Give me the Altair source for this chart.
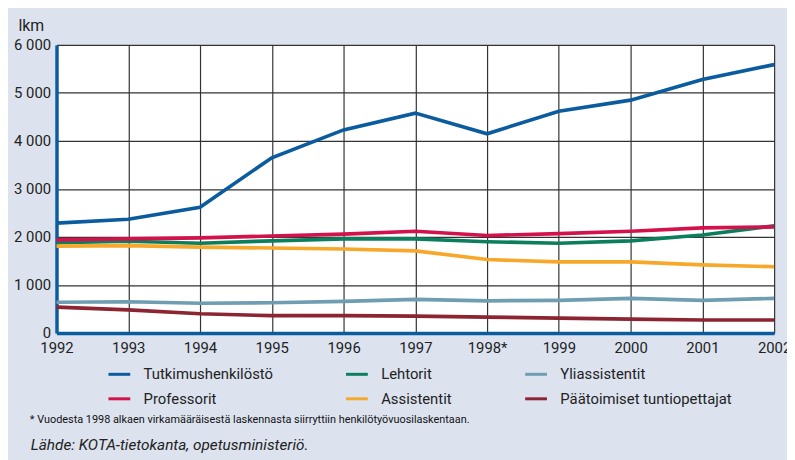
import altair as alt
import pandas as pd

years = [1992, 1993, 1994, 1995, 1996, 1997, 1998, 1999, 2000, 2001, 2002]
series_names = ["Tutkimushenkilöstö", "Lehtorit", "Yliassistentit",
                "Professorit", "Assistentit", "Päätoimiset tuntiopettajat"]
tutkimus = [2290, 2370, 2620, 3650, 4230, 4580, 4150, 4620, 4850, 5280, 5590]
lehtorit = [1880, 1910, 1870, 1920, 1960, 1960, 1900, 1870, 1920, 2040, 2230]
yliass = [640, 650, 620, 630, 660, 700, 670, 680, 720, 680, 720]
professorit = [1940, 1960, 1980, 2020, 2060, 2120, 2030, 2070, 2120, 2190, 2210]
assistentit = [1810, 1820, 1790, 1770, 1750, 1710, 1530, 1480, 1480, 1420, 1380]
paatoimiset = [540, 480, 400, 360, 360, 350, 330, 310, 290, 270, 270]
colors = ["#0b5c9e", "#0b7f5c", "#6f9db2", "#d3124b", "#f7a82b", "#8c2531"]

values = [tutkimus, lehtorit, yliass, professorit, assistentit, paatoimiset]
rows = []
for name, vals in zip(series_names, values):
    for y, v in zip(years, vals):
        rows.append({"vuosi": y, "lkm": v, "sarja": name})
df = pd.DataFrame(rows)

footnote = "* Vuodesta 1998 alkaen virkamääräisestä laskennasta siirryttiin henkilötyövuosilaskentaan."
source = "Lähde: KOTA-tietokanta, opetusministeriö."

FONT = "Liberation Sans Narrow, Roboto, sans-serif"

lines = alt.Chart(df).mark_line(strokeWidth=3.7, clip=False).encode(
    x=alt.X("vuosi:Q",
            scale=alt.Scale(domain=[1992, 2002], nice=False, zero=False),
            axis=alt.Axis(values=years, title=None,
                          labelExpr="datum.value == 1998 ? '1998*' : format(datum.value, 'd')",
                          labelFlush=False)),
    y=alt.Y("lkm:Q",
            scale=alt.Scale(domain=[0, 6000], nice=False),
            axis=alt.Axis(values=[0, 1000, 2000, 3000, 4000, 5000, 6000],
                          title="lkm", titleAngle=0, titleAlign="left",
                          titleBaseline="middle",
                          titleX=-39, titleY=-20, titleFontSize=16,
                          titleFontWeight="normal", titleFont=FONT,
                          titleColor="#222",
                          labelExpr="replace(format(datum.value, ','), ',', ' ')")),
    color=alt.Color("sarja:N",
                    scale=alt.Scale(domain=series_names, range=colors),
                    sort=series_names,
                    legend=alt.Legend(title=None, orient="none", legendX=51, legendY=320,
                                      direction="horizontal", columns=3,
                                      symbolType="stroke", symbolSize=484,
                                      symbolStrokeWidth=3, labelFontSize=15,
                                      labelFont=FONT, labelOffset=12, labelLimit=400,
                                      columnPadding=67, rowPadding=4,
                                      labelColor="#222")),
)

foot = alt.Chart(pd.DataFrame({"t": [footnote]})).mark_text(
    align="left", baseline="middle", fontSize=11, font=FONT, color="#111"
).encode(text="t:N", x=alt.value(-27), y=alt.value(379))

src = alt.Chart(pd.DataFrame({"t": [source]})).mark_text(
    align="left", baseline="middle", fontSize=15.5, font=FONT, fontStyle="italic", color="#222"
).encode(text="t:N", x=alt.value(-26), y=alt.value(404))

chart = alt.layer(lines, foot, src).properties(
    width=725, height=291,
    autosize=alt.AutoSizeParams(type="none"),
    padding={"left": 49, "top": 35, "right": 13, "bottom": 126},
    background="#dce3ef",
).configure_view(
    fill="white", stroke=None
).configure_axis(
    domainColor="#0b5c9e", domainWidth=3.5, ticks=False,
    gridColor="#333333", gridWidth=1.2, gridOpacity=1,
    labelFont=FONT, labelFontSize=15, labelColor="#222", labelPadding=6,
).configure_axisX(labelPadding=8)

chart.save("out.html", embed_options={"renderer": "svg", "actions": False})
